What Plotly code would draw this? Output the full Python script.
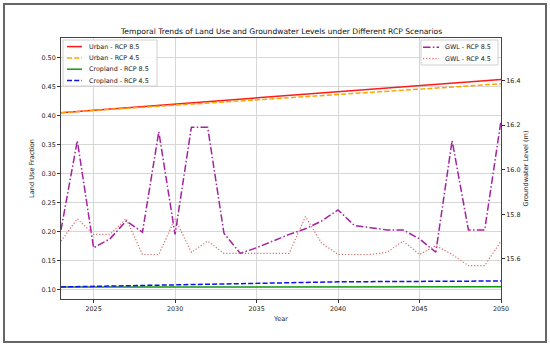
import plotly.graph_objects as go

# ---------------- data ----------------
years = list(range(2023, 2051))

urban_85 = [0.4050, 0.4071, 0.4092, 0.4113, 0.4134, 0.4156, 0.4177, 0.4198, 0.4219, 0.4240,
            0.4261, 0.4282, 0.4303, 0.4324, 0.4346, 0.4367, 0.4388, 0.4409, 0.4430, 0.4451,
            0.4472, 0.4493, 0.4514, 0.4536, 0.4557, 0.4578, 0.4599, 0.4620]
urban_45 = [0.4050, 0.4068, 0.4087, 0.4105, 0.4123, 0.4142, 0.4160, 0.4179, 0.4197, 0.4215,
            0.4234, 0.4252, 0.4270, 0.4289, 0.4307, 0.4326, 0.4344, 0.4362, 0.4381, 0.4399,
            0.4417, 0.4436, 0.4454, 0.4473, 0.4491, 0.4509, 0.4528, 0.4546]
crop_85 = [0.1050, 0.1050, 0.1051, 0.1051, 0.1052, 0.1052, 0.1053, 0.1053, 0.1053, 0.1054,
           0.1054, 0.1054, 0.1055, 0.1055, 0.1055, 0.1055, 0.1056, 0.1056, 0.1056, 0.1056,
           0.1056, 0.1057, 0.1057, 0.1057, 0.1057, 0.1057, 0.1057, 0.1057]
crop_45 = [0.1052, 0.1058, 0.1064, 0.1070, 0.1076, 0.1082, 0.1088, 0.1094, 0.1100, 0.1105,
           0.1110, 0.1115, 0.1120, 0.1125, 0.1129, 0.1133, 0.1137, 0.1140, 0.1142, 0.1144,
           0.1145, 0.1147, 0.1148, 0.1149, 0.1151, 0.1152, 0.1153, 0.1155]
gwl_85 = [15.73, 16.13, 15.65, 15.69, 15.77, 15.72, 16.17, 15.71, 16.19, 16.19,
          15.715, 15.625, 15.65, 15.68, 15.71, 15.735, 15.77, 15.82, 15.75, 15.74,
          15.73, 15.73, 15.69, 15.63, 16.13, 15.73, 15.73, 16.22]
gwl_45 = [15.68, 15.78, 15.71, 15.71, 15.78, 15.62, 15.62, 15.78, 15.63, 15.68,
          15.625, 15.625, 15.625, 15.625, 15.625, 15.79, 15.67, 15.62, 15.62, 15.62,
          15.63, 15.68, 15.62, 15.66, 15.62, 15.57, 15.57, 15.68]

left_names = ["Urban - RCP 8.5", "Urban - RCP 4.5", "Cropland - RCP 8.5", "Cropland - RCP 4.5"]
right_names = ["GWL - RCP 8.5", "GWL - RCP 4.5"]

x_ticks = [2025, 2030, 2035, 2040, 2045, 2050]
left_ticks = [0.10, 0.15, 0.20, 0.25, 0.30, 0.35, 0.40, 0.45, 0.50]
right_ticks = [15.6, 15.8, 16.0, 16.2, 16.4]

title = "Temporal Trends of Land Use and Groundwater Levels under Different RCP Scenarios"

# ---------------- styling ----------------
FONT = "DejaVu Sans"
TXT = "#222222"
DASH = "5px,2.2px"
DOT = "1.2px,1.9px"
DASHDOT = "7.5px,2.3px,1.5px,2.3px"
left_series = [urban_85, urban_45, crop_85, crop_45]
left_colors = ["#ff1a1a", "#ffa500", "#119911", "#1010ee"]
left_dash = ["solid", DASH, "solid", DASH]
left_width = [1.5, 1.5, 1.5, 1.5]
right_series = [gwl_85, gwl_45]
right_colors = ["#a3239f", "#d86a6a"]
right_dash = [DASHDOT, DOT]
right_width = [1.5, 1.2]

W, H = 550, 346
L, R, T, B = 61, 49, 38, 47
PW, PH = W - L - R, H - T - B


def px(x):
    return (x - L) / PW


def py(y):
    return 1 - (y - T) / PH


fig = go.Figure()
for name, vals, c, d, w in zip(left_names, left_series, left_colors, left_dash, left_width):
    fig.add_trace(go.Scatter(x=years, y=vals, mode="lines", name=name,
                             line=dict(color=c, width=w, dash=d), yaxis="y"))
for name, vals, c, d, w in zip(right_names, right_series, right_colors, right_dash, right_width):
    fig.add_trace(go.Scatter(x=years, y=vals, mode="lines", name=name,
                             line=dict(color=c, width=w, dash=d), yaxis="y2"))

shapes = []
annotations = []

# outer figure frame
shapes.append(dict(type="rect", xref="paper", yref="paper",
                   x0=px(4), x1=px(546), y0=py(342), y1=py(4),
                   line=dict(color="#666666", width=2), layer="below"))

# title
annotations.append(dict(text=title, xref="paper", yref="paper", x=px(281), y=py(31),
                        xanchor="center", yanchor="middle", showarrow=False,
                        font=dict(family=FONT, size=7.6, color="#111")))


def make_legend(names, colors, dashes, widths, box, x_line, x_text, rows):
    shapes.append(dict(type="rect", xref="paper", yref="paper",
                       x0=px(box[0]), x1=px(box[1]), y0=py(box[3]), y1=py(box[2]),
                       line=dict(color="#d0d0d0", width=1),
                       fillcolor="rgba(255,255,255,0.85)", layer="above"))
    for n, c, d, w, yy in zip(names, colors, dashes, widths, rows):
        shapes.append(dict(type="line", xref="paper", yref="paper",
                           x0=px(x_line[0]), x1=px(x_line[1]), y0=py(yy), y1=py(yy),
                           line=dict(color=c, width=w, dash=d), layer="above"))
        annotations.append(dict(text=n, xref="paper", yref="paper", x=px(x_text), y=py(yy),
                                xanchor="left", yanchor="middle", showarrow=False,
                                font=dict(family=FONT, size=6.4, color=TXT)))


make_legend(left_names, left_colors, left_dash, left_width, (63, 157, 40, 86), (67, 82), 86.5,
            [46.6, 57.9, 69.2, 80.5])
make_legend(right_names, right_colors, right_dash, right_width, (421, 498, 40, 65), (423, 439),
            442.5, [47.3, 58.6])

tick_font = dict(family=FONT, size=6.4, color=TXT)
title_font = dict(family=FONT, size=6.6, color=TXT)

fig.update_layout(
    width=W, height=H,
    margin=dict(l=L, r=R, t=T, b=B),
    paper_bgcolor="white", plot_bgcolor="white",
    showlegend=False,
    font=dict(family=FONT, size=6.4, color=TXT),
    xaxis=dict(range=[2023, 2050], tickvals=x_ticks, ticks="outside", ticklen=3,
               tickwidth=0.8, tickcolor="#333", showline=True, linecolor="#444",
               linewidth=1, mirror=True, showgrid=True, gridcolor="#d6d6d6",
               gridwidth=1, zeroline=False, tickfont=tick_font,
               title=dict(text="Year", standoff=4, font=title_font)),
    yaxis=dict(range=[0.0845, 0.5334], tickvals=left_ticks, tickformat=".2f",
               ticks="outside", ticklen=3, tickwidth=0.8, tickcolor="#333",
               showline=True, linecolor="#444", linewidth=1, mirror=True,
               showgrid=True, gridcolor="#d6d6d6", gridwidth=1, zeroline=False,
               tickfont=tick_font,
               title=dict(text="Land Use Fraction", standoff=6, font=title_font)),
    yaxis2=dict(range=[15.4205, 16.590], tickvals=right_ticks, tickformat=".1f",
                overlaying="y", side="right", ticks="outside", ticklen=3,
                tickwidth=0.8, tickcolor="#333", showline=True, linecolor="#444",
                linewidth=1, showgrid=False, zeroline=False, tickfont=tick_font,
                title=dict(text="Groundwater Level (m)", standoff=3, font=title_font)),
    shapes=shapes,
    annotations=annotations,
)

fig.write_html("out.html", config={"displayModeBar": False},
               post_script="document.body.style.margin='0';document.body.style.padding='0';")
